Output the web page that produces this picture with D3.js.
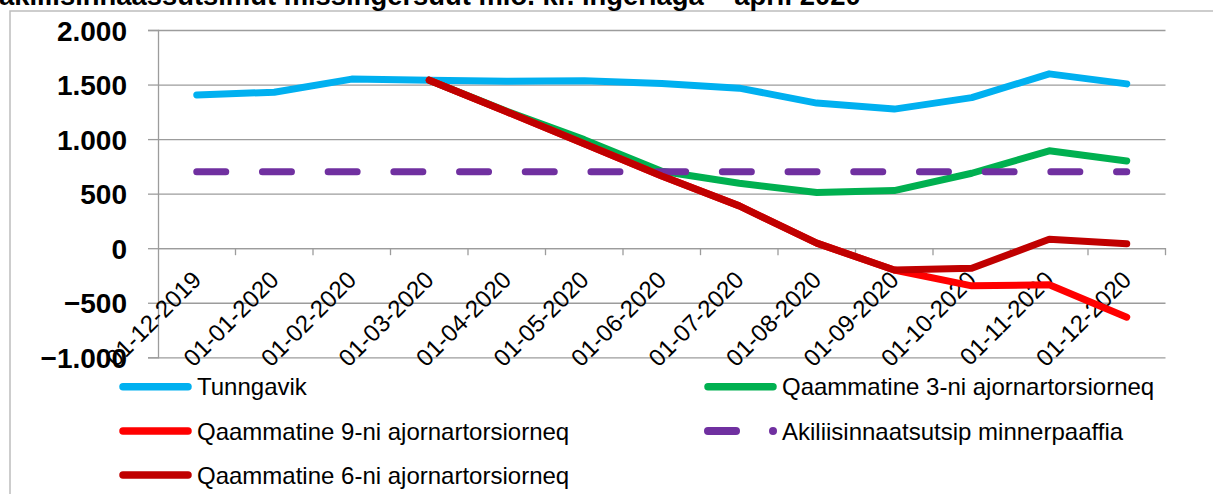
<!DOCTYPE html>
<html>
<head>
<meta charset="utf-8">
<script src="https://cdn.jsdelivr.net/npm/d3@7"></script>
<style>
  html, body { margin: 0; padding: 0; background: #fff; }
  svg { display: block; }
  text { font-family: "Liberation Sans", Arial, sans-serif; }
</style>
</head>
<body>
<svg id="chart" width="1213" height="494"></svg>
<script>
// ---- data ----
const titleText = "akiliisinnaassutsimut missingersuut mio. kr. ingerlaga \u2013 april 2020";
const categories = ["01-12-2019","01-01-2020","01-02-2020","01-03-2020","01-04-2020","01-05-2020","01-06-2020","01-07-2020","01-08-2020","01-09-2020","01-10-2020","01-11-2020","01-12-2020"];
const tunngavik = [1405, 1430, 1550, 1540, 1530, 1535, 1510, 1467, 1330, 1275, 1380, 1598, 1506];
const qaammatine3 = [null, null, null, 1540, 1255, 995, 705, 595, 510, 528, 687, 893, 800];
const qaammatine9 = [null, null, null, 1540, 1250, 958, 662, 388, 46, -200, -345, -335, -632];
const akiliisinnaatsutsip = [700, 700, 700, 700, 700, 700, 700, 700, 700, 700, 700, 700, 700];
const qaammatine6 = [null, null, null, 1540, 1250, 958, 662, 388, 46, -200, -184, 82, 40];
const yTicks = [2000, 1500, 1000, 500, 0, -500, -1000];
const seriesNames = ["Tunngavik", "Qaammatine 3-ni ajornartorsiorneq", "Qaammatine 9-ni ajornartorsiorneq", "Akiliisinnaatsutsip minnerpaaffia", "Qaammatine 6-ni ajornartorsiorneq"];
const seriesColors = ["#00B0F0", "#00B050", "#FF0000", "#7030A0", "#C00000"];

const seriesData = [tunngavik, qaammatine3, qaammatine9, akiliisinnaatsutsip, qaammatine6];

// ---- layout ----
const svg = d3.select("#chart");
const plot = { left: 158, right: 1165.5, top: 30, bottom: 357.3 };

const x = d3.scaleBand().domain(categories).range([plot.left, plot.right]).paddingInner(0).paddingOuter(0);
const cx = c => x(c) + x.bandwidth() / 2;
const y = d3.scaleLinear().domain([-1000, 2000]).range([plot.bottom, plot.top]);

// outer frame
svg.append("rect")
  .attr("x", 10).attr("y", 11).attr("width", 1400).attr("height", 700)
  .attr("fill", "none").attr("stroke", "#bdbdbd").attr("stroke-width", 1.5);

// title (clipped at top, as in reference)
svg.append("text")
  .attr("x", -1).attr("y", 5)
  .attr("font-size", 27.4).attr("font-weight", "bold").attr("fill", "#000")
  .text(titleText);

// y gridlines
const gridColor = "#9c9c9c";
const yAxis = d3.axisLeft(y).tickValues(yTicks).tickSize(-(plot.right - plot.left)).tickPadding(0)
  .tickFormat(() => "");
const gy = svg.append("g").attr("transform", `translate(${plot.left},0)`).call(yAxis);
gy.select(".domain").remove();
gy.selectAll(".tick line").attr("stroke", gridColor).attr("stroke-width", 1.3);
// outer tick marks + labels on the left
const yTickMarks = d3.axisLeft(y).tickValues(yTicks).tickSize(10).tickFormat(d3.format(",.0f"));
const gy2 = svg.append("g").attr("transform", `translate(${plot.left},0)`).call(yTickMarks);
gy2.select(".domain").attr("stroke", gridColor).attr("stroke-width", 1.3);
gy2.selectAll(".tick line").attr("stroke", gridColor).attr("stroke-width", 1.3);
gy2.selectAll(".tick text")
  .attr("x", -31).attr("dy", "0.36em")
  .attr("font-size", 28).attr("font-weight", "bold").attr("fill", "#000")
  .attr("font-family", "'Liberation Sans', Arial, sans-serif")
  .text(d => d3.format(",.0f")(d).replace(/,/g, "."));

// x axis at zero with tick marks at category boundaries
const xAxis = d3.axisBottom(x).tickSize(0).tickFormat(() => "");
const gx = svg.append("g").attr("transform", `translate(0,${y(0)})`).call(xAxis);
gx.select(".domain").attr("stroke", gridColor).attr("stroke-width", 1.3);
gx.selectAll(".tick").remove();
const boundaries = categories.map(c => x(c) + x.bandwidth());
gx.selectAll("line.bt").data(boundaries).enter().append("line")
  .attr("class", "bt")
  .attr("x1", d => d).attr("x2", d => d).attr("y1", 0).attr("y2", 7)
  .attr("stroke", gridColor).attr("stroke-width", 1.3);

// x labels, rotated
svg.append("g").selectAll("text").data(categories).enter().append("text")
  .attr("transform", d => `translate(${cx(d) + 6},${y(0) + 33}) rotate(-45)`)
  .attr("text-anchor", "end")
  .attr("font-size", 24).attr("fill", "#000")
  .text(d => d);

// lines
const line = d3.line()
  .defined(d => d.v !== null)
  .x(d => cx(d.c))
  .y(d => y(d.v));

seriesData.forEach((vals, i) => {
  const pts = categories.map((c, j) => ({ c, v: vals[j] }));
  const p = svg.append("path")
    .attr("d", line(pts))
    .attr("fill", "none")
    .attr("stroke", seriesColors[i])
    .attr("stroke-width", 7)
    .attr("stroke-linejoin", "round")
    .attr("stroke-linecap", "round");
  if (i === 3) p.attr("stroke-dasharray", "29,36.7");
});

// legend
const legendItems = [
  { i: 0, lx: 119, ty: 386.7 },
  { i: 1, lx: 704, ty: 386.7 },
  { i: 2, lx: 119, ty: 431 },
  { i: 3, lx: 704, ty: 431 },
  { i: 4, lx: 119, ty: 475 }
];
const lg = svg.append("g");
legendItems.forEach(it => {
  if (it.i === 3) {
    lg.append("line")
      .attr("x1", it.lx + 4).attr("x2", it.lx + 32)
      .attr("y1", it.ty).attr("y2", it.ty)
      .attr("stroke", seriesColors[it.i]).attr("stroke-width", 8).attr("stroke-linecap", "round");
    lg.append("circle").attr("cx", it.lx + 69).attr("cy", it.ty).attr("r", 4)
      .attr("fill", seriesColors[it.i]);
  } else {
    lg.append("line")
      .attr("x1", it.lx + 4).attr("x2", it.lx + 69)
      .attr("y1", it.ty).attr("y2", it.ty)
      .attr("stroke", seriesColors[it.i]).attr("stroke-width", 7.5).attr("stroke-linecap", "round");
  }
  lg.append("text")
    .attr("x", it.lx + 78).attr("y", it.ty).attr("dy", "0.36em")
    .attr("font-size", 24).attr("fill", "#000")
    .text(seriesNames[it.i]);
});
</script>
</body>
</html>
